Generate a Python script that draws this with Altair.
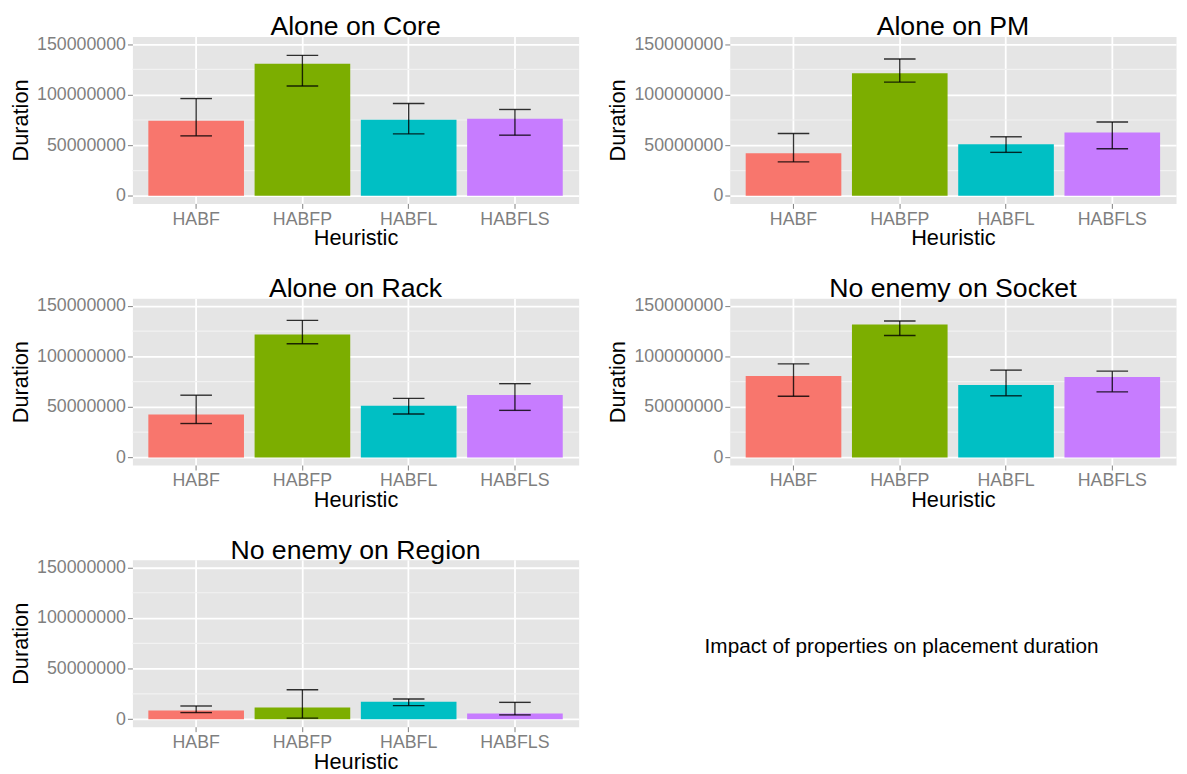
import altair as alt
import pandas as pd

panels = ["Alone on Core", "Alone on PM", "Alone on Rack",
          "No enemy on Socket", "No enemy on Region"]
heuristics = ["HABF", "HABFP", "HABFL", "HABFLS"]
colors = ["#F8766D", "#7CAE00", "#00BFC4", "#C77CFF"]

core_mean = [74.3e6, 130.7e6, 75.3e6, 76.3e6]
core_low = [59.3e6, 108.6e6, 61.3e6, 60.0e6]
core_high = [96.2e6, 138.9e6, 91.3e6, 85.4e6]

pm_mean = [42.1e6, 121.3e6, 50.9e6, 62.6e6]
pm_low = [33.6e6, 112.5e6, 43.0e6, 46.6e6]
pm_high = [61.6e6, 135.3e6, 58.4e6, 73.0e6]

rack_mean = [42.4e6, 121.6e6, 51.2e6, 61.9e6]
rack_low = [33.6e6, 112.5e6, 43.0e6, 46.6e6]
rack_high = [61.6e6, 135.6e6, 58.4e6, 73.0e6]

socket_mean = [80.5e6, 131.4e6, 71.7e6, 79.6e6]
socket_low = [60.6e6, 120.6e6, 61.0e6, 64.9e6]
socket_high = [92.6e6, 135.0e6, 86.4e6, 85.4e6]

region_mean = [8.5e6, 11.4e6, 17.3e6, 5.5e6]
region_low = [6.5e6, 1.0e6, 13.4e6, 4.2e6]
region_high = [13.0e6, 29.0e6, 19.9e6, 16.6e6]

major_ticks = [0, 50e6, 100e6, 150e6]
minor_grid = [25e6, 75e6, 125e6]
caption = "Impact of properties on placement duration"

series = {
    "Alone on Core": (core_mean, core_low, core_high),
    "Alone on PM": (pm_mean, pm_low, pm_high),
    "Alone on Rack": (rack_mean, rack_low, rack_high),
    "No enemy on Socket": (socket_mean, socket_low, socket_high),
    "No enemy on Region": (region_mean, region_low, region_high),
}

FONT = "Liberation Sans"
W, H = 452, 169

yscale = alt.Scale(domain=[-7.5e6, 157.5e6], nice=False, zero=False)
xscale = alt.Scale(domain=heuristics, paddingInner=0.1, paddingOuter=0.15)
cscale = alt.Scale(domain=heuristics, range=colors)

yaxis = alt.Axis(values=major_ticks, format="d", title="Duration",
                 grid=True, gridColor="white", gridWidth=1.8,
                 domain=False, tickColor="#7F7F7F", tickSize=5, tickWidth=1,
                 labelColor="#7F7F7F", labelFontSize=18, labelFont=FONT,
                 labelPadding=2, titleFont=FONT, titleFontSize=22,
                 titleFontWeight="normal", titleColor="black", titlePadding=4)
xaxis = alt.Axis(title="Heuristic", grid=True, gridColor="white", gridWidth=1.8,
                 bandPosition=0.5, domain=False, tickColor="#7F7F7F", tickSize=5,
                 labelColor="#7F7F7F", labelFontSize=18, labelFont=FONT,
                 labelPadding=2, labelAngle=0, titleFont=FONT, titleFontSize=22,
                 titleFontWeight="normal", titleColor="black", titlePadding=0)


def panel(name):
    m, lo, hi = series[name]
    df = pd.DataFrame({"Heuristic": heuristics, "Mean": m, "Low": lo, "High": hi})
    grid = alt.Chart(pd.DataFrame({"Mean": minor_grid})).mark_rule(
        color="#F2F2F2", strokeWidth=1.2
    ).encode(y=alt.Y("Mean:Q", scale=yscale, axis=yaxis))
    base = alt.Chart(df)
    bars = base.mark_bar().encode(
        x=alt.X("Heuristic:N", scale=xscale, axis=xaxis, sort=heuristics),
        y=alt.Y("Mean:Q", scale=yscale, axis=yaxis),
        color=alt.Color("Heuristic:N", scale=cscale, legend=None),
    )
    rule = base.mark_rule(color="black", opacity=0.8, strokeWidth=1.4).encode(
        x=alt.X("Heuristic:N", scale=xscale, sort=heuristics),
        y=alt.Y("Low:Q", scale=yscale),
        y2="High:Q",
    )
    cap_lo = base.mark_tick(color="black", opacity=0.8, thickness=1.4, size=32).encode(
        x=alt.X("Heuristic:N", scale=xscale, sort=heuristics),
        y=alt.Y("Low:Q", scale=yscale),
    )
    cap_hi = base.mark_tick(color="black", opacity=0.8, thickness=1.4, size=32).encode(
        x=alt.X("Heuristic:N", scale=xscale, sort=heuristics),
        y=alt.Y("High:Q", scale=yscale),
    )
    return alt.layer(grid, bars, rule, cap_lo, cap_hi).properties(
        width=W, height=H,
        title=alt.TitleParams(name, fontSize=27, font=FONT, fontWeight="normal",
                              color="black", anchor="middle", offset=-6),
        view=alt.ViewBackground(fill="#E5E5E5", stroke="transparent"),
    )


text_chart = alt.Chart(pd.DataFrame({"t": [caption]})).mark_text(
    font=FONT, fontSize=21, color="black", dy=4
).encode(text="t:N").properties(
    width=560, height=H,
    view=alt.ViewBackground(fill="transparent", stroke="transparent"),
)

row1 = alt.hconcat(panel(panels[0]), panel(panels[1]), spacing=26)
row2 = alt.hconcat(panel(panels[2]), panel(panels[3]), spacing=26)
row3 = alt.hconcat(panel(panels[4]), text_chart, spacing=44)

chart = alt.vconcat(row1, row2, row3, spacing=25).properties(
    padding={"left": 1, "top": 0, "right": 0, "bottom": 0}
).configure_view(stroke="transparent").configure(background="white")

chart.save("out.html", embed_options={"renderer": "svg", "actions": False})
